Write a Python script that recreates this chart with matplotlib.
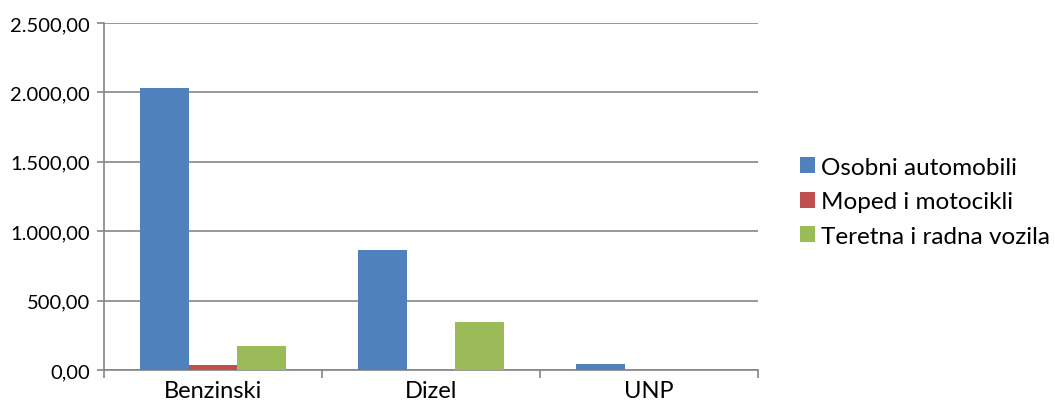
import numpy as np
import matplotlib
matplotlib.use('Agg')
import matplotlib.pyplot as plt
from matplotlib.ticker import FuncFormatter, FixedLocator

plt.rcParams['font.family'] = ['Lato', 'DejaVu Sans']

# Podaci
kategorije = ['Benzinski', 'Dizel', 'UNP']
osobni = [2035, 867, 40]
mopedi = [35, 0, 0]
teretna = [170, 349, 0]
serije = ['Osobni automobili', 'Moped i motocikli', 'Teretna i radna vozila']
boje = ['#4F81BD', '#C0504D', '#9BBB59']

fig = plt.figure(figsize=(10.55, 4.14), dpi=100)
ax = fig.add_axes([0.0986, 0.1039, 0.6199, 0.8381])

x = np.arange(len(kategorije))
w = 1 / 4.5
for i, (vals, name, c) in enumerate(zip([osobni, mopedi, teretna], serije, boje)):
    ax.bar(x + (i - 1) * w, vals, width=w, color=c, label=name, zorder=3)

ax.set_xlim(-0.5, len(kategorije) - 0.5)
ax.set_ylim(0, 2500)
ax.set_yticks(np.arange(0, 2501, 500))
ax.yaxis.set_major_formatter(FuncFormatter(
    lambda v, p: '{:,.2f}'.format(v).replace(',', 'X').replace('.', ',').replace('X', '.')))
ax.set_xticks(x)
ax.set_xticklabels(kategorije, fontsize=17)
ax.xaxis.set_minor_locator(FixedLocator(np.arange(-0.5, len(kategorije), 1)))
ax.tick_params(axis='x', which='major', length=0, pad=7)
ax.tick_params(axis='x', which='minor', length=6, color='#868686', width=1.2)
ax.tick_params(axis='y', length=5, color='#868686', width=1.2, labelsize=14.5, pad=5)

ax.grid(axis='y', color='#868686', linewidth=1.2, zorder=0)
for s in ['top', 'right']:
    ax.spines[s].set_visible(False)
for s in ['left', 'bottom']:
    ax.spines[s].set_color('#868686')
    ax.spines[s].set_linewidth(1.2)

ax.legend(loc='center left', bbox_to_anchor=(1.045, 0.485), frameon=False, fontsize=17.5,
          handlelength=0.65, handleheight=0.65, handletextpad=0.25, labelspacing=0.55,
          borderpad=0)

fig.savefig('out.png', dpi=100)
